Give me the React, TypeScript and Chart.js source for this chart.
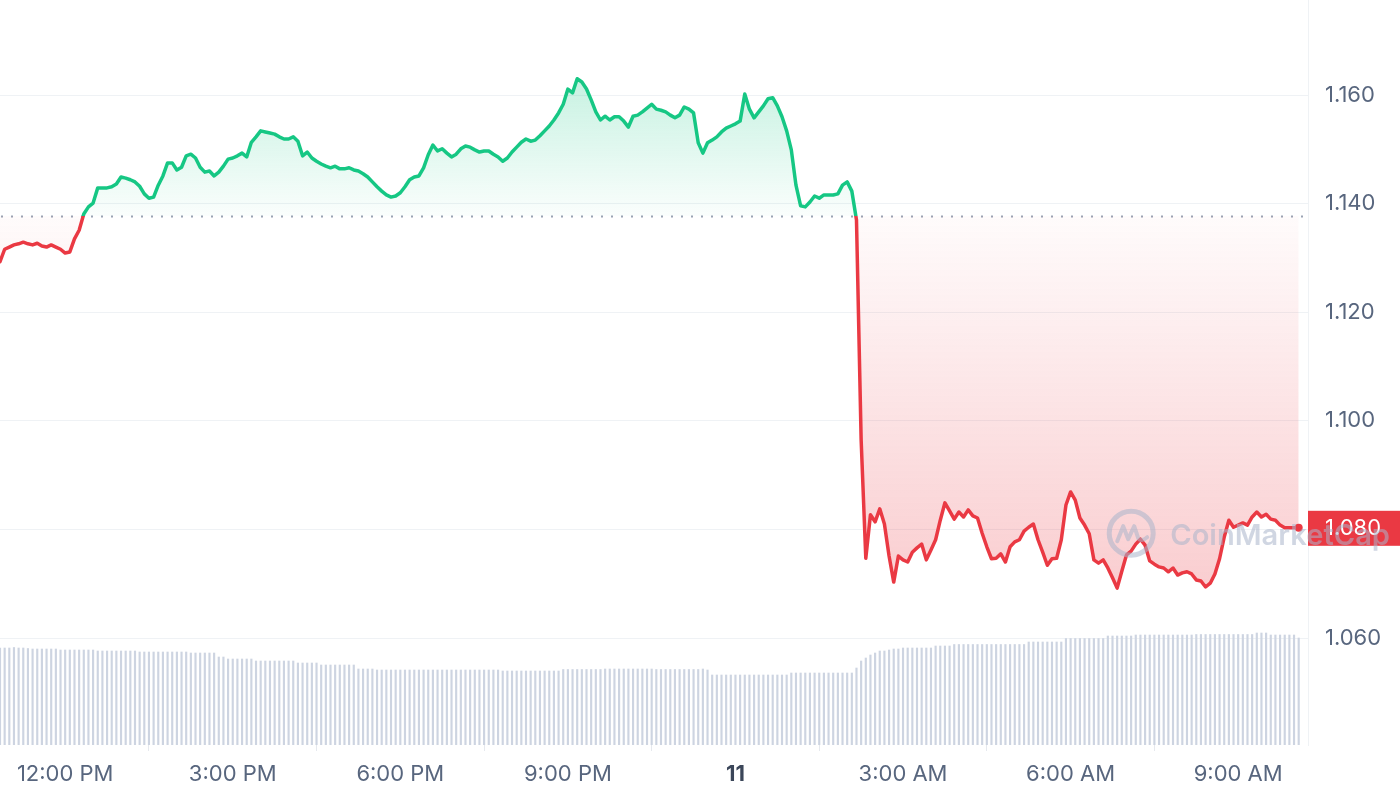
import React, { useEffect, useRef } from 'react';
import { Chart, registerables } from 'chart.js';

Chart.register(...registerables);

// ---- data ----
const START_HOUR = 10 + 50 / 60; // 10:50 AM on the 10th, hours since midnight
const STEP_HOURS = 5 / 60; // 5-minute samples
const BASELINE_PRICE = 1.1377; // opening price (dotted line)

const prices = [
  1.1293, 1.1316, 1.1320, 1.1324, 1.1326, 1.1329, 1.1326, 1.1324, 1.1327, 1.1322,
  1.1320, 1.1324, 1.1320, 1.1316, 1.1309, 1.1311, 1.1335, 1.1351, 1.1381, 1.1394,
  1.1401, 1.1429, 1.1429, 1.1429, 1.1431, 1.1436, 1.1449, 1.1447, 1.1444, 1.1440,
  1.1432, 1.1418, 1.1410, 1.1412, 1.1434, 1.1451, 1.1475, 1.1475, 1.1462, 1.1467,
  1.1488, 1.1491, 1.1484, 1.1467, 1.1458, 1.1460, 1.1451, 1.1458, 1.1469, 1.1482,
  1.1484, 1.1488, 1.1493, 1.1486, 1.1513, 1.1523, 1.1534, 1.1532, 1.1530, 1.1528,
  1.1523, 1.1519, 1.1519, 1.1523, 1.1515, 1.1488, 1.1495, 1.1484, 1.1478, 1.1473,
  1.1469, 1.1466, 1.1469, 1.1464, 1.1464, 1.1466, 1.1462, 1.1460, 1.1455, 1.1449,
  1.1440, 1.1431, 1.1423, 1.1416, 1.1412, 1.1414, 1.1420, 1.1431, 1.1444, 1.1449,
  1.1451, 1.1466, 1.1490, 1.1508, 1.1497, 1.1501, 1.1493, 1.1486, 1.1491, 1.1501,
  1.1506, 1.1504, 1.1499, 1.1495, 1.1497, 1.1497, 1.1491, 1.1486, 1.1478, 1.1484,
  1.1495, 1.1504, 1.1513, 1.1519, 1.1515, 1.1517, 1.1525, 1.1534, 1.1543, 1.1554,
  1.1567, 1.1583, 1.1611, 1.1604, 1.1630, 1.1624, 1.1611, 1.1591, 1.1569, 1.1554,
  1.1561, 1.1554, 1.1560, 1.1560, 1.1552, 1.1541, 1.1561, 1.1563, 1.1569, 1.1576,
  1.1583, 1.1574, 1.1572, 1.1569, 1.1563, 1.1558, 1.1563, 1.1578, 1.1574, 1.1567,
  1.1512, 1.1493, 1.1512, 1.1517, 1.1523, 1.1532, 1.1539, 1.1543, 1.1547, 1.1552,
  1.1602, 1.1574, 1.1558, 1.1569, 1.1580, 1.1593, 1.1595, 1.1580, 1.1560, 1.1534,
  1.1499, 1.1434, 1.1396, 1.1394, 1.1403, 1.1414, 1.1410, 1.1416, 1.1416, 1.1416,
  1.1418, 1.1434, 1.1440, 1.1423, 1.1370, 1.0965, 1.0747, 1.0827, 1.0814, 1.0838,
  1.0810, 1.0751, 1.0703, 1.0751, 1.0744, 1.0740, 1.0758, 1.0766, 1.0773, 1.0744,
  1.0762, 1.0781, 1.0817, 1.0849, 1.0834, 1.0819, 1.0832, 1.0823, 1.0836, 1.0825,
  1.0821, 1.0793, 1.0768, 1.0746, 1.0747, 1.0755, 1.0740, 1.0768, 1.0777, 1.0781,
  1.0797, 1.0804, 1.0810, 1.0781, 1.0758, 1.0734, 1.0746, 1.0747, 1.0781, 1.0845,
  1.0869, 1.0854, 1.0821, 1.0808, 1.0792, 1.0744, 1.0738, 1.0744, 1.0729, 1.0711,
  1.0692, 1.0723, 1.0753, 1.0760, 1.0773, 1.0782, 1.0771, 1.0742, 1.0736, 1.0731,
  1.0729, 1.0722, 1.0729, 1.0716, 1.0720, 1.0722, 1.0718, 1.0707, 1.0705, 1.0694,
  1.0701, 1.0718, 1.0746, 1.0786, 1.0817, 1.0804, 1.0808, 1.0812, 1.0808, 1.0823,
  1.0832, 1.0823, 1.0828, 1.0819, 1.0817, 1.0808, 1.0803, 1.0803, 1.0803, 1.0803,
];

// 24h volume (relative units)
const volumes = [
  97, 97, 97, 97.5, 97, 97, 96.5, 96, 96, 96,
  96, 96, 96, 95, 95, 95, 95, 95, 95, 95,
  95, 94, 94, 94, 94, 94, 94, 94, 94, 94,
  93, 93, 93, 93, 93, 93, 93, 93, 93, 93,
  93, 92, 92, 92, 92, 92, 92, 88, 88, 86,
  86, 86, 86, 86, 86, 84, 84, 84, 84, 84,
  84, 84, 84, 84, 82, 82, 82, 82, 82, 80,
  80, 80, 80, 80, 80, 80, 80, 76, 76, 76,
  76, 75, 75, 75, 75, 75, 75, 75, 75, 75,
  75, 75, 75, 75, 75, 75, 75, 75, 75, 75,
  75, 75, 75, 75, 75, 75, 75, 75, 74, 74,
  74, 74, 74, 74, 74, 74, 74, 74, 74, 74,
  74, 75.5, 75.5, 75.5, 75.5, 75.5, 75.5, 75.5, 75.5, 75.5,
  76, 76, 76, 76, 76, 76, 76, 76, 76, 76,
  76, 75.5, 75.5, 75.5, 75.5, 75.5, 75.5, 75.5, 75.5, 75.5,
  75.5, 76, 75, 70, 70, 70, 70, 70, 70, 70,
  70, 70, 70, 70, 70, 70, 70, 70, 70, 70,
  72, 72, 72, 72, 72, 72, 72, 72, 72, 72,
  72, 72, 72, 72, 77, 84, 87, 90, 92, 94,
  94, 95, 96, 96, 97, 97, 97, 97, 97, 97,
  97, 99, 99, 99, 99, 100.5, 100.5, 100.5, 100.5, 100.5,
  100.5, 100.5, 100.5, 100.5, 100.5, 100.5, 100.5, 100.5, 100.5, 100.5,
  100.5, 103, 103, 103, 103, 103, 103, 103, 103, 106.5,
  106.5, 106.5, 106.5, 106.5, 106.5, 106.5, 106.5, 106.5, 109, 109,
  109, 109, 109, 109, 110, 110, 110, 110, 110, 110,
  110, 110, 110, 110, 110, 110, 110, 110.5, 110.5, 110.5,
  110.5, 110.5, 110.5, 110.5, 110.5, 110.5, 110.5, 110.5, 110.5, 110.5,
  112, 112, 112, 110, 110, 110, 110, 110, 110, 107,
];

const xTickHours = [12, 15, 18, 21, 24, 27, 30, 33];
const xTickLabels = ['12:00 PM', '3:00 PM', '6:00 PM', '9:00 PM', '11', '3:00 AM', '6:00 AM', '9:00 AM'];
const yTickValues = [1.06, 1.08, 1.1, 1.12, 1.14, 1.16];

const X_MIN = START_HOUR;
const X_MAX = 34.25;
const Y_MIN = 1.0403;
const Y_MAX = 1.1775;
const VOL_AXIS_MAX = 745;

const GREEN = '#16c784';
const RED = '#ea3943';
const TEXT = '#58667e';
const GRID = '#eff2f5';
const FONT = 'Inter, "Noto Sans", sans-serif';
const LABEL_SIZE = 22;

const times = prices.map((_, i) => START_HOUR + i * STEP_HOURS);

function lineGradient(chart: any) {
  const { ctx, chartArea, scales } = chart;
  if (!chartArea || !scales.y) return GREEN;
  const yb = scales.y.getPixelForValue(BASELINE_PRICE);
  const f = Math.min(1, Math.max(0, (yb - chartArea.top) / (chartArea.bottom - chartArea.top)));
  const g = ctx.createLinearGradient(0, chartArea.top, 0, chartArea.bottom);
  g.addColorStop(0, GREEN);
  g.addColorStop(f, GREEN);
  g.addColorStop(f, RED);
  g.addColorStop(1, RED);
  return g;
}

function fillGradient(chart: any) {
  const { ctx, chartArea, scales } = chart;
  if (!chartArea || !scales.y) return 'rgba(0,0,0,0)';
  const yTop = scales.y.getPixelForValue(Math.max(...prices));
  const yBot = scales.y.getPixelForValue(Math.min(...prices));
  const yb = scales.y.getPixelForValue(BASELINE_PRICE);
  const f = Math.min(1, Math.max(0, (yb - yTop) / (yBot - yTop)));
  const g = ctx.createLinearGradient(0, yTop, 0, yBot);
  g.addColorStop(0, 'rgba(22,199,132,0.24)');
  g.addColorStop(f, 'rgba(22,199,132,0.02)');
  g.addColorStop(f, 'rgba(234,57,67,0.02)');
  g.addColorStop(1, 'rgba(234,57,67,0.25)');
  return g;
}

const decorPlugin = {
  id: 'decor',
  beforeDatasetsDraw(chart: any) {
    const { ctx, chartArea, scales } = chart;
    const y = Math.round(scales.y.getPixelForValue(BASELINE_PRICE)) + 0.5;
    ctx.save();
    ctx.strokeStyle = '#9aa3b4';
    ctx.lineWidth = 2;
    ctx.setLineDash([2, 8]);
    ctx.beginPath();
    ctx.moveTo(chartArea.left + 1, y);
    ctx.lineTo(chartArea.right - 4, y);
    ctx.stroke();
    ctx.restore();
  },
  afterDraw(chart: any) {
    const { ctx, chartArea, scales, width, height } = chart;
    const last = prices[prices.length - 1];
    const yl = scales.y.getPixelForValue(last);
    // current price tag
    ctx.save();
    ctx.fillStyle = RED;
    ctx.fillRect(chartArea.right, yl - 17, width - chartArea.right, 35);
    ctx.fillStyle = '#ffffff';
    ctx.font = LABEL_SIZE + 'px ' + FONT;
    ctx.textBaseline = 'middle';
    ctx.textAlign = 'left';
    ctx.fillText(last.toFixed(3), chartArea.right + 17, yl + 1);
    ctx.restore();

    // watermark
    const cx = width * 0.808;
    const cy = height * 0.669;
    ctx.save();
    ctx.globalAlpha = 0.55;
    ctx.strokeStyle = '#aab5cb';
    ctx.fillStyle = '#aab5cb';
    ctx.lineWidth = 5;
    ctx.beginPath();
    ctx.arc(cx, cy, 22, 0, Math.PI * 2);
    ctx.stroke();
    ctx.lineWidth = 4;
    ctx.lineJoin = 'round';
    ctx.lineCap = 'round';
    ctx.beginPath();
    ctx.moveTo(cx - 14, cy + 8);
    ctx.lineTo(cx - 8, cy - 7);
    ctx.lineTo(cx - 3, cy + 6);
    ctx.lineTo(cx + 3, cy - 7);
    ctx.lineTo(cx + 7, cy + 5);
    ctx.quadraticCurveTo(cx + 10, cy + 9, cx + 16, cy + 4);
    ctx.stroke();
    ctx.font = '600 30px ' + FONT;
    const text = 'CoinMarketCap';
    const target = 220;
    const w = ctx.measureText(text).width;
    const size = Math.max(20, Math.min(34, (30 * target) / w));
    ctx.font = '600 ' + size.toFixed(1) + 'px ' + FONT;
    ctx.textBaseline = 'middle';
    ctx.textAlign = 'left';
    ctx.fillText(text, cx + 39, cy + 3);
    ctx.restore();
  },
};

export default function App() {
  const canvasRef = useRef<HTMLCanvasElement | null>(null);

  useEffect(() => {
    document.body.style.margin = '0';
    const canvas = canvasRef.current;
    if (!canvas) return;
    const chart = new Chart(canvas, {
      type: 'line',
      data: {
        datasets: [
          {
            type: 'line',
            label: 'Price',
            data: prices.map((p, i) => ({ x: times[i], y: p })),
            yAxisID: 'y',
            borderWidth: 3.5,
            tension: 0,
            borderJoinStyle: 'round',
            borderCapStyle: 'round',
            pointRadius: (ctx: any) => (ctx.dataIndex === prices.length - 1 ? 4 : 0),
            pointBackgroundColor: RED,
            pointBorderWidth: 0,
            borderColor: (ctx: any) => lineGradient(ctx.chart),
            backgroundColor: (ctx: any) => fillGradient(ctx.chart),
            fill: { value: BASELINE_PRICE },
            order: 1,
          } as any,
          {
            type: 'bar',
            label: 'Volume',
            data: volumes.map((v, i) => ({ x: times[i], y: v })),
            yAxisID: 'yv',
            backgroundColor: '#cdd4e1',
            borderWidth: 0,
            barThickness: 1.5,
            grouped: false,
            order: 2,
          } as any,
        ],
      },
      options: {
        animation: false,
        responsive: true,
        maintainAspectRatio: false,
        events: [],
        layout: { padding: 0, autoPadding: false },
        plugins: {
          legend: { display: false },
          tooltip: { enabled: false },
        },
        scales: {
          x: {
            type: 'linear',
            min: X_MIN,
            max: X_MAX,
            offset: false,
            afterBuildTicks: (scale: any) => {
              scale.ticks = xTickHours.map((v) => ({ value: v }));
            },
            afterFit: (scale: any) => {
              scale.height = 52;
              scale.paddingLeft = 0;
              scale.paddingRight = 0;
              scale.paddingTop = 0;
              scale.paddingBottom = 0;
            },
            grid: {
              drawOnChartArea: false,
              drawTicks: true,
              tickLength: 6,
              color: '#e6e9ee',
            },
            border: { display: false },
            ticks: {
              autoSkip: false,
              maxRotation: 0,
              padding: 10,
              color: (ctx: any) => (ctx.index === 4 ? '#3b4659' : TEXT),
              font: (ctx: any) => ({
                family: FONT,
                size: LABEL_SIZE,
                weight: ctx.index === 4 ? 'bold' : 'normal',
              }),
              callback: (_v: any, i: number) => xTickLabels[i],
            },
          },
          y: {
            type: 'linear',
            position: 'right',
            min: Y_MIN,
            max: Y_MAX,
            afterBuildTicks: (scale: any) => {
              scale.ticks = yTickValues.map((v) => ({ value: v }));
            },
            afterFit: (scale: any) => {
              scale.width = 92;
              scale.paddingTop = 0;
              scale.paddingBottom = 0;
              scale.paddingLeft = 0;
              scale.paddingRight = 0;
            },
            grid: { color: GRID, drawTicks: false, lineWidth: 1 },
            border: { display: true, color: GRID, width: 1 },
            ticks: {
              padding: 17,
              color: TEXT,
              font: { family: FONT, size: LABEL_SIZE },
              callback: (v: any) => Number(v).toFixed(3),
            },
          },
          yv: {
            type: 'linear',
            display: false,
            min: 0,
            max: VOL_AXIS_MAX,
            grid: { display: false },
          },
        },
      },
      plugins: [decorPlugin],
    });
    return () => chart.destroy();
  }, []);

  return (
    <div style={{ width: 1400, height: 797, position: 'relative', background: '#fff' }}>
      <canvas ref={canvasRef} />
    </div>
  );
}
